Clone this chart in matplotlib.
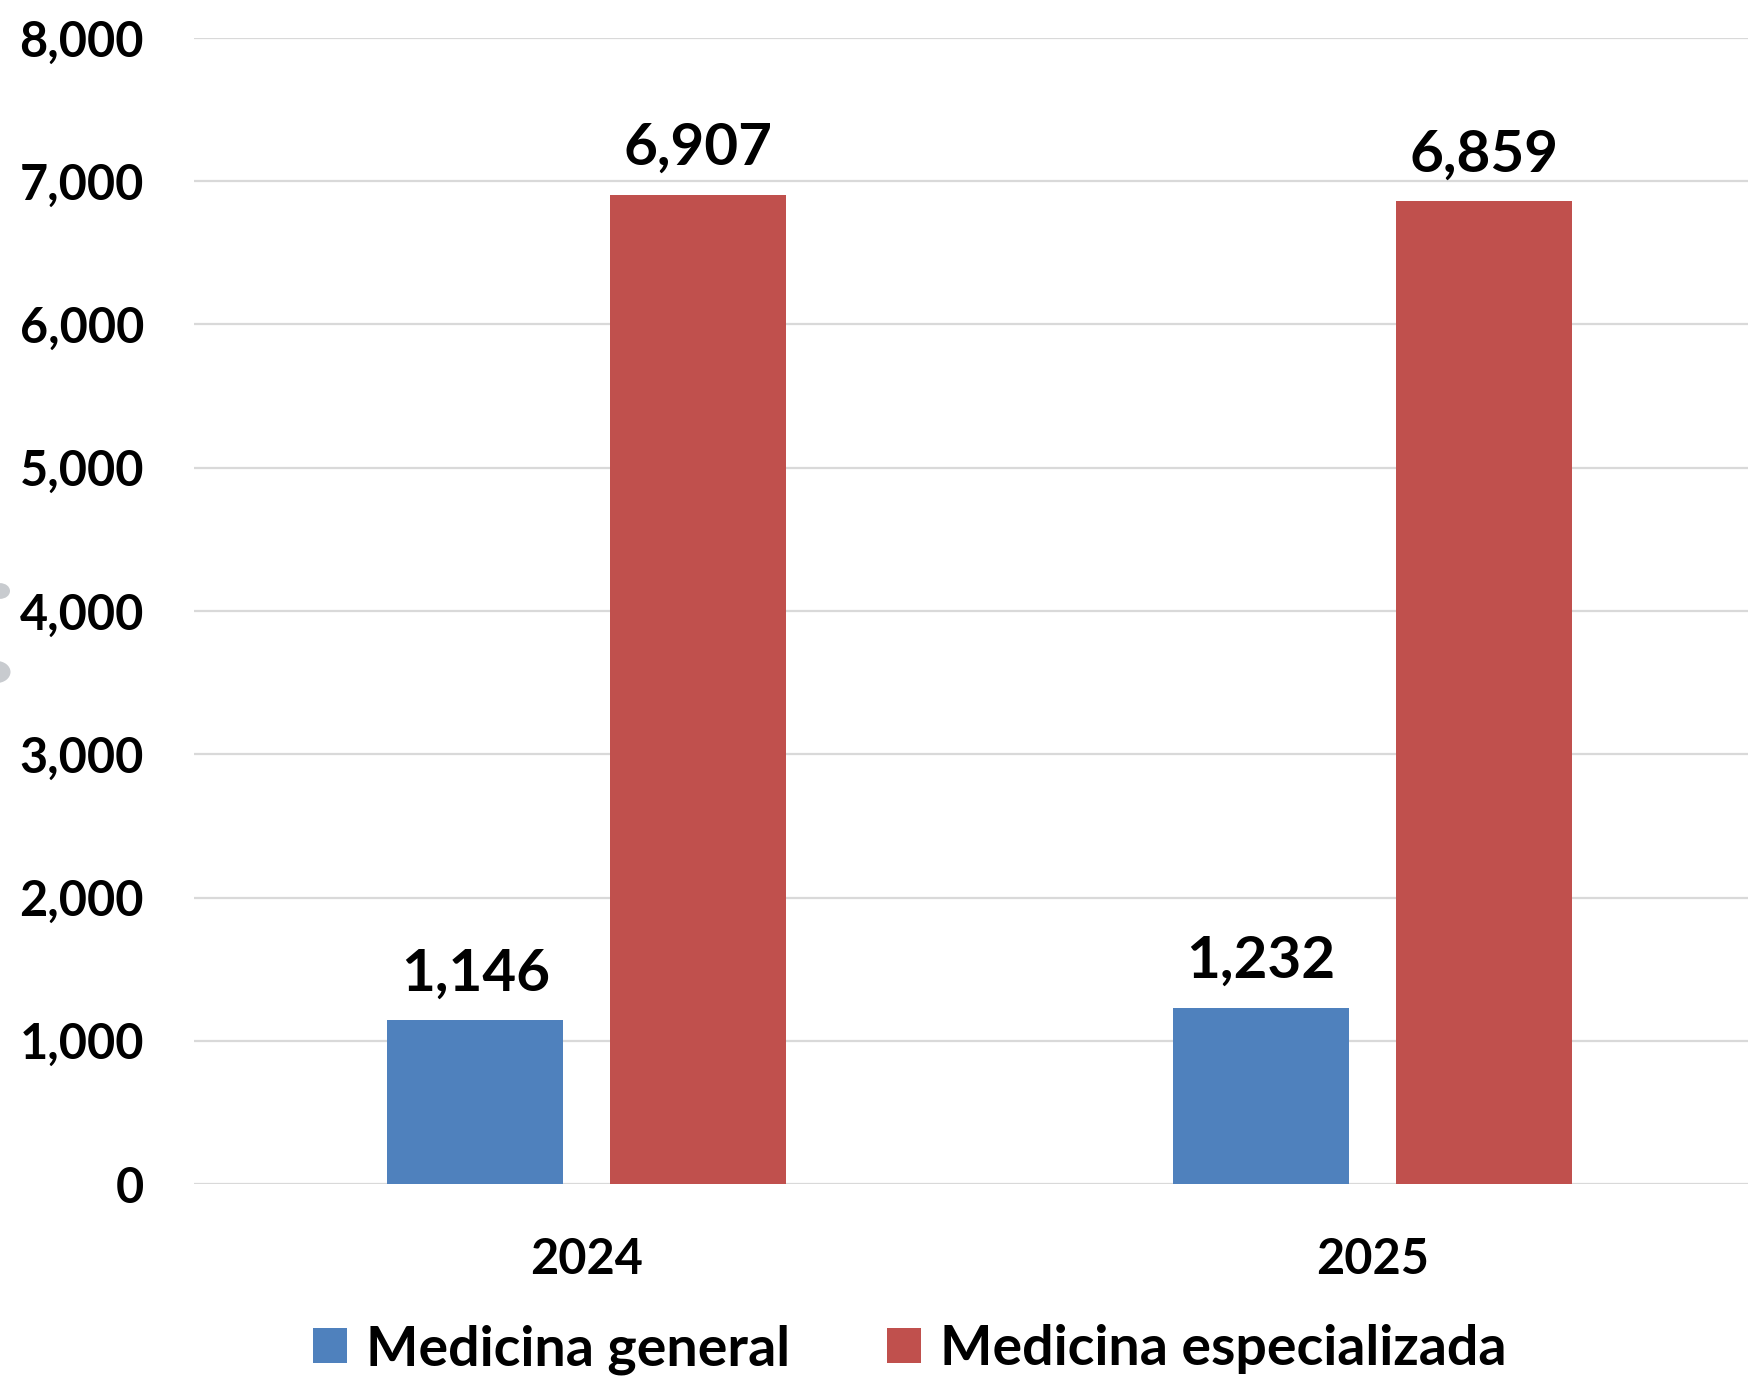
import matplotlib
matplotlib.use("Agg")
import matplotlib.pyplot as plt
import numpy as np
from matplotlib.patches import Circle

years = ["2024", "2025"]
series_names = ["Medicina general", "Medicina especializada"]
general = [1146, 1232]
especializada = [6907, 6859]
yticks = [0, 1000, 2000, 3000, 4000, 5000, 6000, 7000, 8000]

colors = ["#4F81BD", "#C0504D"]
plt.rcParams['font.family'] = ['Lato', 'DejaVu Sans']

fig = plt.figure(figsize=(17.48, 13.80), dpi=100)
ax = fig.add_axes([0.111, 0.142, 0.8987, 0.8305])

x = np.arange(len(years))
w = 0.2243
off = 0.142
b1 = ax.bar(x - off, general, w, color=colors[0], label=series_names[0], zorder=3)
b2 = ax.bar(x + off, especializada, w, color=colors[1], label=series_names[1], zorder=3)

for bars, vals in ((b1, general), (b2, especializada)):
    for r, v in zip(bars, vals):
        ax.annotate(f"{v:,}", (r.get_x() + r.get_width() / 2, v), xytext=(0, 14),
                    textcoords="offset points", ha="center", va="bottom",
                    fontsize=42, fontweight="bold")

ax.set_xlim(-0.5, 1.5)
ax.set_ylim(0, 8000)
ax.set_yticks(yticks)
ax.set_yticklabels([f"{t:,}" for t in yticks], fontsize=35, fontweight="bold")
ax.tick_params(axis="y", length=0, pad=36)
ax.set_xticks(x)
ax.set_xticklabels(years, fontsize=35, fontweight="bold")
ax.tick_params(axis="x", length=0, pad=38)
ax.grid(axis="y", color="#D9D9D9", linewidth=1.6, zorder=0)
ax.set_axisbelow(True)
for s in ax.spines.values():
    s.set_visible(False)

leg = fig.legend(handles=[b1, b2], labels=series_names, loc="center", bbox_to_anchor=(0.5206, 0.022),
                 ncol=2, frameon=False, prop={"weight": "bold", "size": 40},
                 handlelength=0.6, handleheight=0.6, handletextpad=0.35, columnspacing=1.75)

# clipped gray marks at left edge
fig.patches.append(Circle((0.0, 1 - 591 / 1380), 10 / 1748, transform=fig.transFigure,
                          facecolor="#C8CBCF", edgecolor="none"))
fig.patches.append(Circle((-0.002, 1 - 672 / 1380), 14 / 1748, transform=fig.transFigure,
                          facecolor="#C8CBCF", edgecolor="none"))

fig.savefig("out.png", dpi=100)
